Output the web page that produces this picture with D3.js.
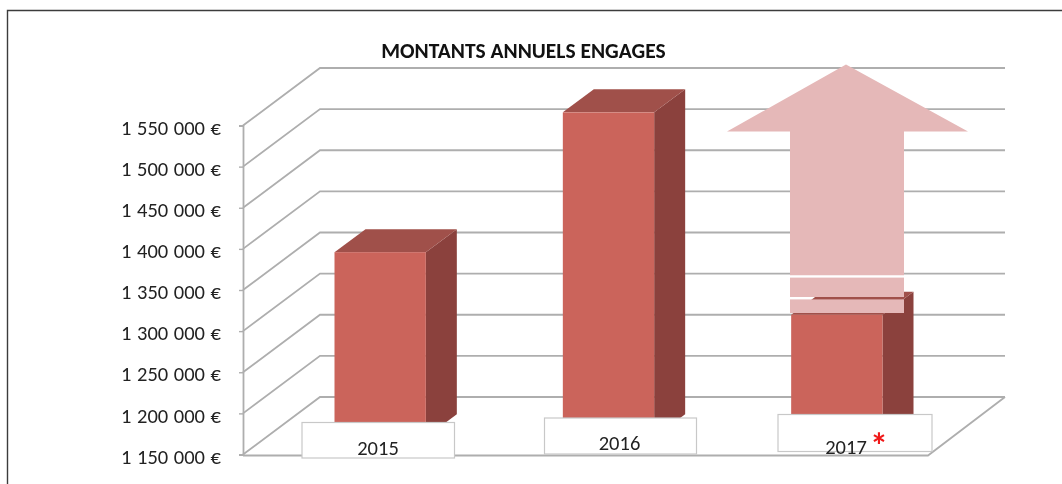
<!DOCTYPE html>
<html><head><meta charset="utf-8">
<script src="https://cdn.jsdelivr.net/npm/d3@7"></script>
<style>html,body{margin:0;padding:0;background:#fff;overflow:hidden}svg{display:block;filter:blur(0.45px)}text{font-family:Carlito,Lato,"Open Sans",sans-serif}</style>
</head><body><svg id="c" width="1062" height="484"></svg>
<script>
const titleText = "MONTANTS ANNUELS ENGAGES";
const categories = ["2015","2016","2017"];
const values = [1375000,1545000,1299000];
const tickValues = [1150000,1200000,1250000,1300000,1350000,1400000,1450000,1500000,1550000];
const colors = {front:"#CB645B",side:"#8B413D",top:"#A0504A",grid:"#AEAEAE",arrow:"#E5B8B8",box:"#C8C8C8"};

const svg = d3.select("#c");
const x0=243, x1=928, wallDx=77, wallDy=-57.5;
const y = d3.scaleLinear().domain([1150000,1550000]).range([454.5,125.5]);
const x = d3.scaleBand().domain(categories).range([x0,x1]).paddingInner(0.6).paddingOuter(0.3);
const barDx=31, barDy=-23, offDx=23, offDy=-17.25;
const poly = p => "M"+p.map(a=>a.join(",")).join("L")+"Z";

// frame
svg.append("path").attr("d","M7.5,484V10.5H1062").attr("fill","none").attr("stroke","#3c3c3c").attr("stroke-width",1.4);

// wall gridlines
const grid = svg.append("g").attr("fill","none").attr("stroke",colors.grid).attr("stroke-width",1.8);
grid.selectAll("path").data(tickValues).join("path")
  .attr("d",v=>`M${x0},${y(v)}L${x0+wallDx},${y(v)+wallDy}H${x1+wallDx}`);
// floor
grid.append("path").attr("d",`M${x0},${y(1150000)+1}H${x1}L${x1+wallDx},${y(1150000)+wallDy}`);

// axis
const axis = d3.axisLeft(y).tickValues(tickValues).tickSize(4).tickPadding(18)
  .tickFormat(v=>d3.format(",")(v).replace(/,/g," ")+" €");
const ax = svg.append("g").attr("transform",`translate(${x0},0)`).call(axis);
ax.select(".domain").attr("stroke",colors.grid).attr("stroke-width",1.8);
ax.selectAll(".tick line").attr("stroke",colors.grid).attr("stroke-width",1.4);
ax.selectAll("text").attr("font-size",20.5).attr("fill","#222").style("font-family","Carlito,Lato,sans-serif")
  .style("word-spacing","1px").attr("dy","0.42em");

// bars
const bars = svg.selectAll("g.bar").data(categories.map((c,i)=>({c,v:values[i]}))).join("g").attr("class","bar");
const bw = x.bandwidth();
const L = d=>x(d.c)+offDx, T=d=>y(d.v)+offDy, B=()=>y(1150000)+offDy;
bars.append("path").attr("fill",colors.side)
  .attr("d",d=>poly([[L(d)+bw,T(d)],[L(d)+bw+barDx,T(d)+barDy],[L(d)+bw+barDx,B()+barDy],[L(d)+bw,B()]]));
bars.append("path").attr("fill",colors.top)
  .attr("d",d=>poly([[L(d),T(d)],[L(d)+barDx,T(d)+barDy],[L(d)+bw+barDx,T(d)+barDy],[L(d)+bw,T(d)]]));
bars.append("rect").attr("fill",colors.front).attr("x",L).attr("y",T).attr("width",bw).attr("height",d=>B()-T(d));

// category label boxes (pasted over the chart in the reference)
const boxes = [[302,422.5,152.5,35.5,378,455],[544.5,418,152,36,619.5,450],[778,414.5,154,37,846,454]];
categories.forEach((c,i)=>{
  const b=boxes[i];
  svg.append("rect").attr("x",b[0]).attr("y",b[1]).attr("width",b[2]).attr("height",b[3])
    .attr("fill","#fff").attr("stroke",colors.box).attr("stroke-width",1.2);
  svg.append("text").attr("x",b[4]).attr("y",b[5]).attr("text-anchor","middle").attr("font-size",20.5).attr("fill","#222").text(c);
});
svg.append("text").attr("x",879).attr("y",458).attr("text-anchor","middle").attr("font-size",36).attr("font-weight",700).attr("fill","#F01818").text("*");

// arrow, cut in three where the reference shows white slits
const ax0=790, ax1=904, hx0=727, hx1=968, tipX=846, tipY=64.5, headY=131.5;
const arrow = svg.append("g").attr("fill",colors.arrow);
arrow.append("path").attr("d",poly([[tipX,tipY],[hx1,headY],[ax1,headY],[ax1,275.2],[ax0,275.2],[ax0,headY],[hx0,headY]]));
arrow.append("rect").attr("x",ax0).attr("y",277.6).attr("width",ax1-ax0).attr("height",19.4);
arrow.append("rect").attr("x",ax0).attr("y",299.4).attr("width",ax1-ax0).attr("height",13.6);

// title
svg.append("text").attr("x",523.5).attr("y",58).attr("text-anchor","middle").attr("font-size",21.5).attr("font-weight",700).attr("fill","#111").text(titleText);
</script></body></html>
